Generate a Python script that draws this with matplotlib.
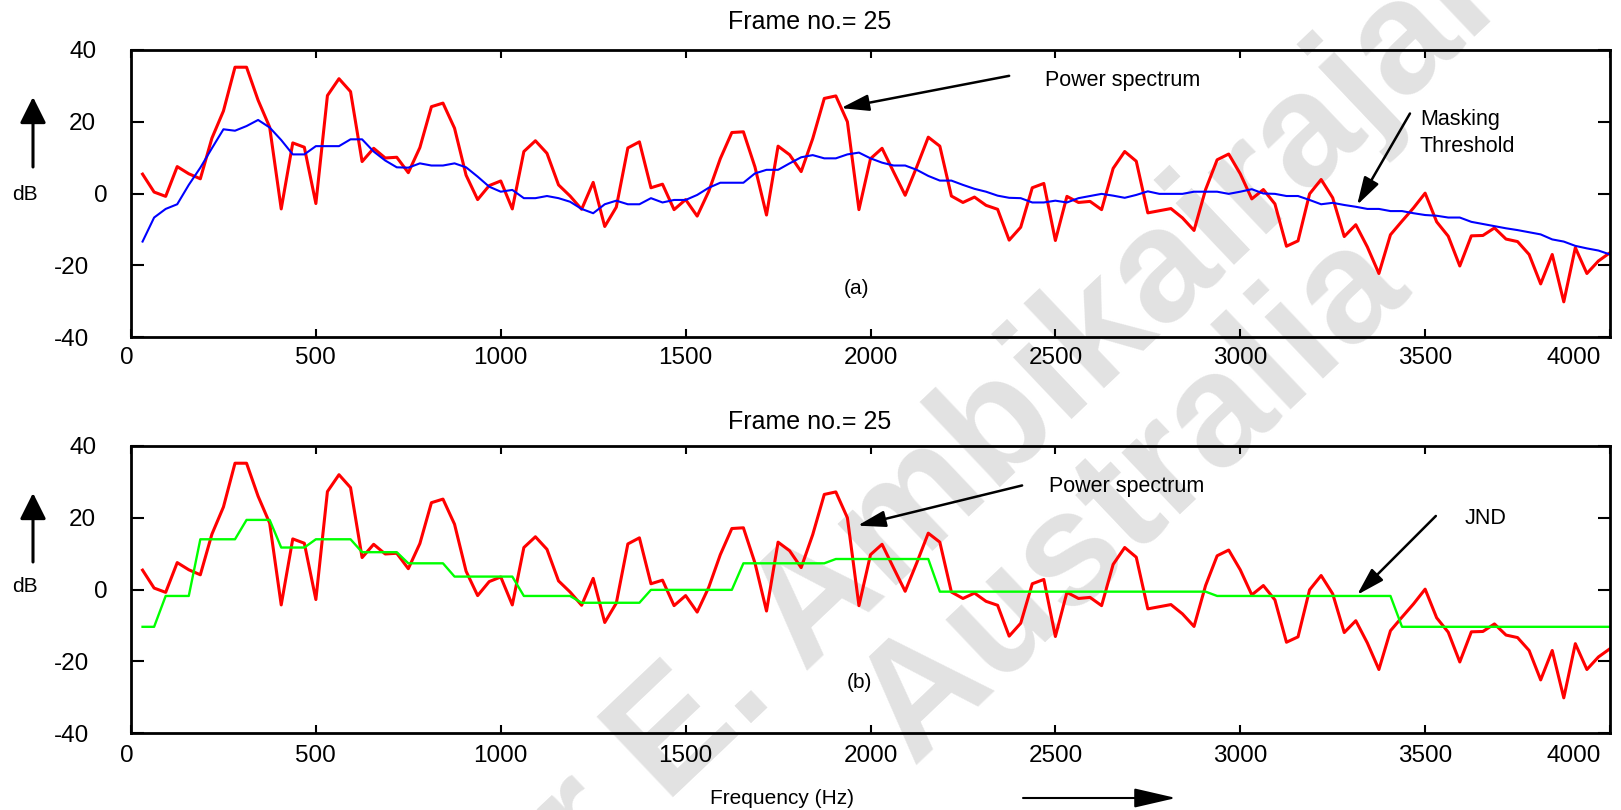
import matplotlib
matplotlib.use("Agg")
import matplotlib.pyplot as plt
from matplotlib.transforms import ScaledTranslation
import numpy as np

# FFT bin spacing for an 8 kHz / 256-point frame
bin_hz = 31.25
n_bins = 128

# power spectrum of frame 25 (dB), one value per bin
power_db = [
    5.4, 0.4, -0.8, 7.5, 5.5, 4.1, 15.4, 23.0, 35.2, 35.2,
    26.0, 18.5, -4.3, 14.1, 12.9, -2.8, 27.3, 32.0, 28.4, 8.9,
    12.6, 9.9, 10.1, 5.8, 12.8, 24.2, 25.2, 18.2, 5.1, -1.7,
    2.2, 3.5, -4.3, 11.7, 14.7, 11.2, 2.4, -0.7, -4.4, 3.1,
    -9.2, -3.8, 12.7, 14.4, 1.6, 2.6, -4.5, -1.7, -6.3, 0.6,
    9.7, 17.0, 17.2, 7.4, -6.0, 13.2, 10.8, 6.1, 15.3, 26.5,
    27.2, 20.0, -4.5, 9.7, 12.6, 6.0, -0.5, 7.4, 15.7, 13.2,
    -0.7, -2.5, -1.0, -3.3, -4.4, -13.0, -9.4, 1.6, 2.8, -13.1,
    -0.8, -2.5, -2.2, -4.5, 7.0, 11.7, 9.0, -5.4, -4.8, -4.2,
    -6.8, -10.3, 1.1, 9.4, 11.0, 5.5, -1.5, 1.1, -2.9, -14.7,
    -13.2, -0.1, 3.9, -1.2, -12.0, -8.7, -14.9, -22.3, -11.5, -7.7,
    -4.0, 0.1, -7.9, -11.9, -20.2, -11.8, -11.7, -9.6, -12.7, -13.4,
    -17.0, -25.2, -17.0, -30.2, -15.1, -22.3, -18.8, -16.5,
]

# global masking threshold (dB)
mask_db = [
    -13.4, -6.7, -4.3, -3.0, 2.4, 7.2, 12.6, 17.9, 17.5, 18.8,
    20.5, 18.4, 14.9, 10.9, 10.9, 13.2, 13.2, 13.2, 15.1, 15.1,
    11.7, 9.2, 7.3, 7.2, 8.4, 7.8, 7.8, 8.4, 7.3, 4.7,
    1.9, 0.5, 1.0, -1.3, -1.3, -0.7, -1.3, -2.3, -4.3, -5.5,
    -3.0, -2.0, -3.0, -3.0, -1.3, -2.5, -1.8, -1.8, -0.4, 1.6,
    3.0, 3.0, 3.0, 5.6, 6.6, 6.6, 8.4, 10.1, 10.7, 9.8,
    9.8, 10.9, 11.4, 9.8, 8.6, 7.8, 7.8, 6.6, 4.9, 3.6,
    3.6, 2.4, 1.3, 0.5, -0.6, -1.2, -1.3, -2.5, -2.5, -2.0,
    -2.5, -1.3, -0.7, -0.1, -0.6, -1.2, -0.4, 0.6, -0.1, -0.1,
    -0.1, 0.5, 0.5, 0.5, -0.1, 0.5, 1.2, 0.0, -0.1, -0.7,
    -0.7, -1.8, -3.0, -2.6, -3.2, -3.7, -4.3, -4.3, -4.9, -4.9,
    -5.5, -6.0, -6.2, -6.7, -6.7, -7.9, -8.5, -9.1, -9.7, -10.2,
    -10.8, -11.4, -12.8, -13.4, -14.6, -15.3, -15.9, -17.0,
]

# just noticeable distortion, constant within each band (dB)
jnd_db = [
    -10.4, -10.4, -1.8, -1.8, -1.8, 14.0, 14.0, 14.0, 14.0, 19.4,
    19.4, 19.4, 11.7, 11.7, 11.7, 14.0, 14.0, 14.0, 14.0, 10.4,
    10.4, 10.4, 10.4, 7.3, 7.3, 7.3, 7.3, 3.6, 3.6, 3.6,
    3.6, 3.6, 3.6, -1.8, -1.8, -1.8, -1.8, -1.8, -3.7, -3.7,
    -3.7, -3.7, -3.7, -3.7, -0.1, -0.1, -0.1, -0.1, -0.1, -0.1,
    -0.1, -0.1, 7.3, 7.3, 7.3, 7.3, 7.3, 7.3, 7.3, 7.3,
    8.5, 8.5, 8.5, 8.5, 8.5, 8.5, 8.5, 8.5, 8.5, -0.6,
    -0.6, -0.6, -0.6, -0.6, -0.6, -0.6, -0.6, -0.6, -0.6, -0.6,
    -0.6, -0.6, -0.6, -0.6, -0.6, -0.6, -0.6, -0.6, -0.6, -0.6,
    -0.6, -0.6, -0.6, -1.8, -1.8, -1.8, -1.8, -1.8, -1.8, -1.8,
    -1.8, -1.8, -1.8, -1.8, -1.8, -1.8, -1.8, -1.8, -1.8, -10.4,
    -10.4, -10.4, -10.4, -10.4, -10.4, -10.4, -10.4, -10.4, -10.4, -10.4,
    -10.4, -10.4, -10.4, -10.4, -10.4, -10.4, -10.4, -10.4,
]

x_ticks = [0, 500, 1000, 1500, 2000, 2500, 3000, 3500, 4000]
y_ticks = [-40, -20, 0, 20, 40]
title = "Frame no.= 25"

FIG_W, FIG_H = 1621, 810


def fx(px):
    return px / FIG_W


def fy(py):
    return 1 - py / FIG_H


def style_axes(fig, ax, xpad):
    ax.set_xlim(0, 4000)
    ax.set_ylim(-40, 40)
    ax.set_facecolor("none")
    for sp in ax.spines.values():
        sp.set_linewidth(2.0)
    ax.set_xticks(x_ticks, labels=[str(v) for v in x_ticks])
    ax.set_yticks(y_ticks, labels=[str(v) for v in y_ticks])
    ax.tick_params(axis="both", direction="in", top=True, right=True,
                   width=1.5, labelsize=17.5)
    ax.tick_params(axis="x", length=6, pad=xpad)
    ax.tick_params(axis="y", length=9, pad=25)

    # nudge a few tick labels sideways (pixels at dpi 100)
    for lab in ax.get_yticklabels():
        t = lab.get_text()
        dx = 11 if t == "0" else (-7 if t.startswith("-") else 0)
        if dx:
            lab.set_transform(lab.get_transform()
                              + ScaledTranslation(dx / 100, 0, fig.dpi_scale_trans))
    for lab in ax.get_xticklabels():
        t = lab.get_text()
        dx = {"0": -4, "4000": -36}.get(t, 0)
        if dx:
            lab.set_transform(lab.get_transform()
                              + ScaledTranslation(dx / 100, 0, fig.dpi_scale_trans))


def arrow(ax, tip, start, hl=0.85, hw=0.25, lw=1.8, coords="data"):
    ax.annotate("", xy=tip, xytext=start, xycoords=coords, textcoords=coords,
                arrowprops=dict(arrowstyle=f"-|>,head_length={hl},head_width={hw}",
                                color="black", lw=lw, shrinkA=0, shrinkB=0,
                                mutation_scale=20),
                annotation_clip=False)


def main() -> None:
    plt.rcParams["font.family"] = ["Liberation Sans", "DejaVu Sans"]
    plt.rcParams["axes.unicode_minus"] = False

    freqs = np.arange(1, n_bins + 1) * bin_hz

    fig = plt.figure(figsize=(FIG_W / 100, FIG_H / 100), dpi=100)

    # faint watermark behind both panels
    wm = dict(rotation=43.5, rotation_mode="anchor", ha="center", va="center",
              fontsize=116, fontweight="bold", color="#e2e2e2", zorder=-1)
    fig.text(fx(992), fy(437), "Dr E. Ambikairajah", **wm)
    fig.text(fx(1134), fy(497), "Australia", **wm)

    ax1 = fig.add_axes([fx(131), fy(337), fx(1610 - 131), (337 - 50) / FIG_H])
    ax2 = fig.add_axes([fx(131), fy(733), fx(1610 - 131), (733 - 446) / FIG_H])

    # (a) power spectrum with masking threshold
    ax1.plot(freqs, power_db, color="#ff0000", lw=2.2)
    ax1.plot(freqs, mask_db, color="#0000ff", lw=1.5)
    style_axes(fig, ax1, xpad=7)
    ax1.set_title(title, x=0.459, fontsize=18, pad=15)
    arrow(ax1, (1920, 23.8), (2375, 32.8))
    ax1.text(2472, 31.6, "Power spectrum", fontsize=15.5, va="center")
    arrow(ax1, (3316, -3.2), (3459, 22.3))
    ax1.text(3486, 16.8, "Masking\nThreshold", fontsize=15.5, va="center",
             linespacing=1.4)
    ax1.text(1962, -26.6, "(a)", fontsize=15, ha="center", va="center")

    # (b) power spectrum with JND
    ax2.plot(freqs, power_db, color="#ff0000", lw=2.2)
    ax2.plot(freqs, jnd_db, color="#00ff00", lw=1.7)
    style_axes(fig, ax2, xpad=8.5)
    ax2.set_title(title, x=0.459, fontsize=18, pad=12)
    arrow(ax2, (1965, 17.8), (2410, 29.0))
    ax2.text(2484, 28.6, "Power spectrum", fontsize=15.5, va="center")
    arrow(ax2, (3316, -1.5), (3529, 20.5))
    ax2.text(3608, 19.9, "JND", fontsize=15.5, va="center")
    ax2.text(1970, -25.8, "(b)", fontsize=15, ha="center", va="center")

    # dB labels with upward arrows
    for ytip, ytail, ylab in [(97, 167, 194), (493, 562, 587)]:
        fig.patches.append(matplotlib.patches.FancyArrowPatch(
            (fx(33), fy(ytail)), (fx(33), fy(ytip)), transform=fig.transFigure,
            arrowstyle="-|>,head_length=0.8,head_width=0.4", mutation_scale=20,
            color="black", lw=2.2, shrinkA=0, shrinkB=0))
        fig.text(fx(25), fy(ylab), "dB", fontsize=15, ha="center", va="center")

    # frequency axis label with arrow
    fig.text(fx(782), fy(798), "Frequency (Hz)", fontsize=15, ha="center", va="center")
    fig.patches.append(matplotlib.patches.FancyArrowPatch(
        (fx(1023), fy(798)), (fx(1176), fy(798)), transform=fig.transFigure,
        arrowstyle="-|>,head_length=1.3,head_width=0.3", mutation_scale=20,
        color="black", lw=1.5, shrinkA=0, shrinkB=0))

    fig.savefig("out.png", dpi=100)


if __name__ == "__main__":
    main()
